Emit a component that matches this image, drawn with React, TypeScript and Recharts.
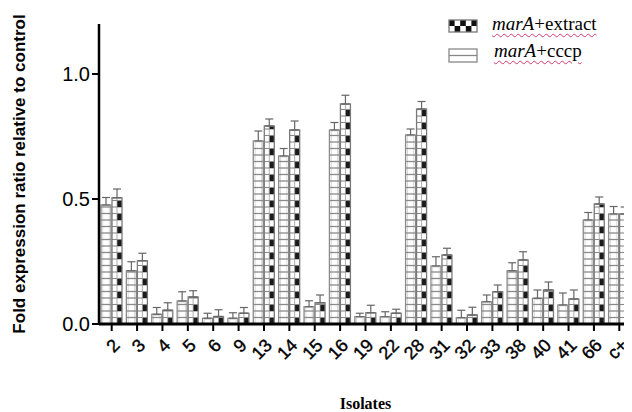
import React from 'react';
import { BarChart, Bar, XAxis, YAxis, ErrorBar, Label } from 'recharts';

const categories = ['2', '3', '4', '5', '6', '9', '13', '14', '15', '16', '19', '22', '28', '31', '32', '33', '38', '40', '41', '66', 'c+'];
const cccpValues = [0.476, 0.213, 0.039, 0.092, 0.023, 0.023, 0.732, 0.672, 0.069, 0.776, 0.029, 0.029, 0.756, 0.232, 0.025, 0.089, 0.213, 0.103, 0.076, 0.416, 0.44];
const extractValues = [0.505, 0.253, 0.055, 0.108, 0.03, 0.043, 0.792, 0.776, 0.085, 0.88, 0.045, 0.043, 0.86, 0.276, 0.036, 0.129, 0.256, 0.136, 0.1, 0.48, 0.44];
const cccpErrors = [0.03, 0.036, 0.027, 0.037, 0.02, 0.022, 0.04, 0.03, 0.024, 0.03, 0.014, 0.02, 0.024, 0.037, 0.03, 0.027, 0.032, 0.033, 0.048, 0.03, 0.03];
const extractErrors = [0.035, 0.03, 0.03, 0.025, 0.027, 0.023, 0.028, 0.036, 0.031, 0.035, 0.03, 0.016, 0.03, 0.027, 0.031, 0.027, 0.033, 0.032, 0.036, 0.028, 0.028];
const yTicks = [0, 0.5, 1.0];

const data = categories.map((name, i) => ({
  name,
  cccp: cccpValues[i],
  extract: extractValues[i],
  cccpErr: [0, cccpErrors[i]],
  extractErr: [0, extractErrors[i]],
}));

const ROW = 6.5;

const CccpShape = (props: any) => {
  const { x, y, width, height } = props;
  if (!height || height <= 0) return null;
  const lines: React.ReactNode[] = [];
  for (let yy = y + height - ROW; yy > y + 1; yy -= ROW) {
    lines.push(<line key={yy} x1={x} x2={x + width} y1={yy} y2={yy} stroke="#8a8a8a" strokeWidth={1.3} />);
  }
  return (
    <g>
      <rect x={x} y={y} width={width} height={height} fill="#fff" stroke="#8a8a8a" strokeWidth={1.3} />
      <rect x={x + 1.8} y={y + 1} width={Math.max(width - 3.6, 0)} height={Math.max(height - 1, 0)} fill="none" stroke="#d0d0d0" strokeWidth={0.8} />
      {lines}
    </g>
  );
};

const ExtractShape = (props: any) => {
  const { x, y, width, height } = props;
  if (!height || height <= 0) return null;
  const parts: React.ReactNode[] = [];
  let k = 0;
  for (let yy = y + height; yy > y + 0.5; yy -= ROW) {
    const top = Math.max(yy - ROW, y);
    if (k % 2 === 0) {
      parts.push(<rect key={'b' + k} x={x + width / 2} y={top} width={width / 2} height={yy - top} fill="#1a1a1a" />);
    }
    parts.push(<line key={'l' + k} x1={x} x2={x + width} y1={top} y2={top} stroke="#8a8a8a" strokeWidth={1.1} />);
    k++;
  }
  return (
    <g>
      <rect x={x} y={y} width={width} height={height} fill="#fff" />
      {parts}
      <line x1={x + width / 2} x2={x + width / 2} y1={y} y2={y + height} stroke="#9a9a9a" strokeWidth={0.8} />
      <rect x={x} y={y} width={width} height={height} fill="none" stroke="#7a7a7a" strokeWidth={1.3} />
    </g>
  );
};

const XTick = (props: any) => {
  const { x, y, payload } = props;
  return (
    <g transform={`translate(${x},${y})`}>
      <text x={0} y={0} dx={-3} dy={16} textAnchor="end" transform="rotate(-45)" fontFamily="Liberation Sans, Arial, sans-serif" fontSize={18} fill="#000" stroke="#000" strokeWidth={0.4}>
        {payload.value}
      </text>
    </g>
  );
};

const YTitle = (props: any) => {
  const { viewBox } = props;
  const cx = 11;
  const cy = viewBox.y + viewBox.height / 2;
  return (
    <text x={cx} y={cy} transform={`rotate(-90 ${cx} ${cy})`} textAnchor="middle" dominantBaseline="central" fontFamily="Liberation Sans, Arial, sans-serif" fontWeight="bold" fontSize={17} fill="#000">
      Fold expression ratio relative to control
    </text>
  );
};

const XTitle = (props: any) => {
  const { viewBox } = props;
  const cx = viewBox.x + viewBox.width / 2;
  const cy = viewBox.y + viewBox.height + 25;
  return (
    <text x={cx} y={cy} textAnchor="middle" fontFamily="Liberation Serif, Times New Roman, serif" fontWeight="bold" fontSize={16} fill="#000">
      Isolates
    </text>
  );
};

const legendText: React.CSSProperties = {
  position: 'absolute',
  fontFamily: 'Liberation Serif, Times New Roman, serif',
  fontSize: 19,
  lineHeight: '19px',
  color: '#000',
  whiteSpace: 'nowrap',
  textDecoration: 'underline wavy #d23a6a',
  textDecorationThickness: '1px',
  textUnderlineOffset: '3px',
};

const ExtractSwatch = () => {
  const cells: React.ReactNode[] = [];
  for (let r = 0; r < 2; r++) {
    for (let c = 0; c < 5; c++) {
      if ((r + c) % 2 === 0) cells.push(<rect key={r + '-' + c} x={1 + c * 5.6} y={1 + r * 6} width={5.6} height={6} fill="#111" />);
    }
  }
  return (
    <svg width={31} height={15} style={{ position: 'absolute', left: 440, top: 11 }}>
      <rect x={1} y={1} width={28} height={12} fill="#fff" />
      {cells}
      <rect x={1} y={1} width={28} height={12} fill="none" stroke="#777" strokeWidth={1.3} />
    </svg>
  );
};

const CccpSwatch = () => (
  <svg width={31} height={16} style={{ position: 'absolute', left: 440, top: 40 }}>
    <rect x={1} y={1} width={28} height={13} fill="#fff" stroke="#888" strokeWidth={1.3} />
    <line x1={1} x2={29} y1={7.5} y2={7.5} stroke="#888" strokeWidth={1.3} />
  </svg>
);

export default function App() {
  const W = 624;
  const H = 404;
  return (
    <div style={{ position: 'relative', width: W, height: H }}>
      <BarChart width={W} height={H} data={data} margin={{ top: 16, right: 0, bottom: 28, left: 0 }} barSize={10} barGap={1}>
        <XAxis
          dataKey="name"
          height={60}
          interval={0}
          tick={<XTick />}
          axisLine={{ stroke: '#000', strokeWidth: 3 }}
          tickLine={{ stroke: '#000', strokeWidth: 2 }}
          tickSize={7}
        >
          <Label content={<XTitle />} />
        </XAxis>
        <YAxis
          width={91}
          domain={[0, 1.2]}
          ticks={yTicks}
          tickFormatter={(v: number) => v.toFixed(1)}
          axisLine={{ stroke: '#000', strokeWidth: 2.5 }}
          tickLine={{ stroke: '#000', strokeWidth: 2 }}
          tickSize={7}
          tick={{ fontFamily: 'Liberation Sans, Arial, sans-serif', fontSize: 20, fill: '#000' }}
        >
          <Label content={<YTitle />} />
        </YAxis>
        <Bar dataKey="cccp" shape={<CccpShape />} isAnimationActive={false}>
          <ErrorBar dataKey="cccpErr" width={4} stroke="#666" strokeWidth={1.2} direction="y" />
        </Bar>
        <Bar dataKey="extract" shape={<ExtractShape />} isAnimationActive={false}>
          <ErrorBar dataKey="extractErr" width={4} stroke="#666" strokeWidth={1.2} direction="y" />
        </Bar>
      </BarChart>
      <ExtractSwatch />
      <div style={{ ...legendText, left: 484, top: 6 }}>
        <i>marA</i>+extract
      </div>
      <CccpSwatch />
      <div style={{ ...legendText, left: 486, top: 33 }}>
        <i>marA</i>+cccp
      </div>
    </div>
  );
}
